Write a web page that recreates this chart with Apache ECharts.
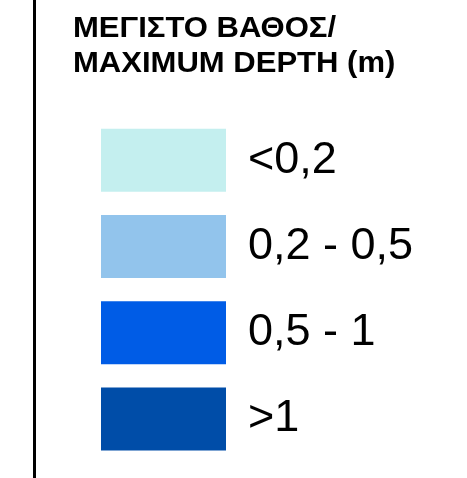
<!DOCTYPE html>
<html>
<head>
<meta charset="utf-8">
<script src="https://cdn.jsdelivr.net/npm/echarts@6/dist/echarts.min.js"></script>
<style>
  html, body { margin: 0; padding: 0; background: #fff; }
  #main { width: 467px; height: 478px; }
</style>
</head>
<body>
<div id="main"></div>
<script>
// depth classes (legend rows)
var classes = ['<0,2', '0,2 - 0,5', '0,5 - 1', '>1'];
var classColors = ['#C4EFEF', '#92C4EC', '#005CE6', '#004DA8'];
var swatchValue = [1, 1, 1, 1];   // every swatch spans the full axis
var titleLines = ['ΜΕΓΙΣΤΟ ΒΑΘΟΣ/', 'MAXIMUM DEPTH (m)'];

var chart = echarts.init(document.getElementById('main'));

var option = {
  animation: false,
  backgroundColor: '#fff',
  grid: { left: 101, width: 125, top: 117, height: 345 },
  xAxis: { type: 'value', min: 0, max: 1, show: false },
  yAxis: { type: 'category', data: classes, inverse: true, show: false },
  graphic: [
    // frame line on the left
    {
      type: 'line',
      shape: { x1: 34.5, y1: 0, x2: 34.5, y2: 478 },
      style: { stroke: '#000', lineWidth: 3 }
    },
    {
      type: 'text',
      x: 73, y: 11, scaleX: 1.07,
      style: {
        text: titleLines.join('\n'),
        font: 'bold 29px "Liberation Sans", Arial, sans-serif',
        lineHeight: 35,
        fill: '#000'
      }
    }
  ],
  series: [{
    type: 'bar',
    barWidth: 63,
    data: swatchValue.map(function (v, i) {
      return { value: v, itemStyle: { color: classColors[i] } };
    }),
    label: {
      show: true,
      position: 'right',
      distance: 22,
      formatter: function (p) { return classes[p.dataIndex]; },
      fontFamily: '"Liberation Sans", Arial, sans-serif',
      fontSize: 45,
      color: '#000'
    },
    silent: true
  }]
};

chart.setOption(option);
</script>
</body>
</html>
